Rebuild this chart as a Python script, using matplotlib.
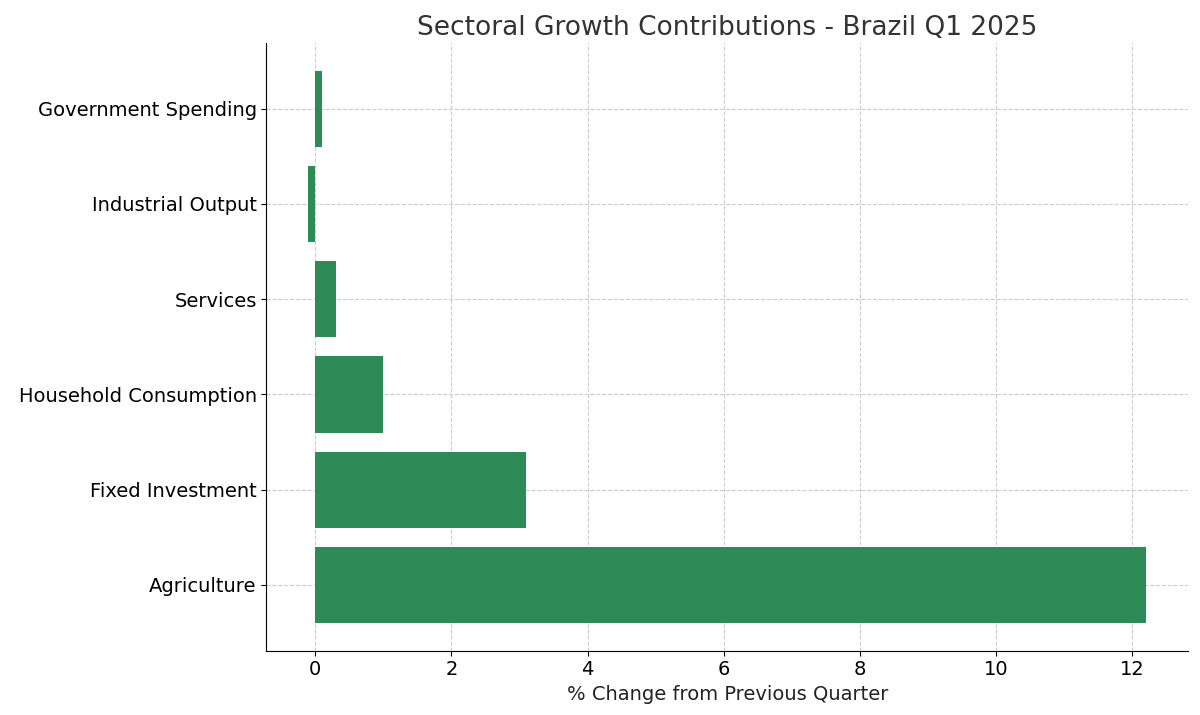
import matplotlib
matplotlib.use("Agg")
import matplotlib.pyplot as plt

categories = ["Agriculture", "Fixed Investment", "Household Consumption", "Services", "Industrial Output", "Government Spending"]
values = [12.2, 3.1, 1.0, 0.3, -0.1, 0.1]

fig, ax = plt.subplots(figsize=(12, 7.15), dpi=100)
ax.barh(categories, values, color="#2E8B57", height=0.8)
ax.set_title("Sectoral Growth Contributions - Brazil Q1 2025", fontsize=19, color="#333333")
ax.set_xlabel("% Change from Previous Quarter", fontsize=14, color="#222222")
ax.tick_params(labelsize=14)
ax.grid(True, linestyle="--", color="#cccccc", linewidth=0.8)
ax.set_axisbelow(True)
ax.spines["top"].set_visible(False)
ax.spines["right"].set_visible(False)
plt.subplots_adjust(left=0.222, right=0.99, top=0.94, bottom=0.09)
fig.savefig("out.png")
